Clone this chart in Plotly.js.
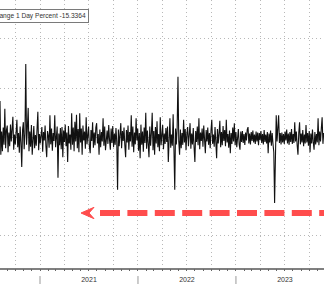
<!DOCTYPE html>
<html>
<head>
<meta charset="utf-8">
<script src="https://cdn.plot.ly/plotly-3.0.1.min.js"></script>
<style>html,body{margin:0;padding:0;background:#fff;}#chart{width:324px;height:284px;}</style>
</head>
<body>
<div id="chart"></div>
<script>
// ---- data ----
const SERIES_NAME = "Change 1 Day Percent";
const LAST_VALUE = -15.3364;
const START_DATE = "2020-08-05";
const STEP_DAYS = 3;
const values = [
  7.4, -3.5, 1.2, -2.8, 2.0, -1.5, 5.8, -2.2, 1.5, 2.4, -3.0, 1.0, -1.8, 2.6, -0.8, 1.9, 4.2, -2.5, 0.6, -1.4,
  1.8, 3.6, -2.0, 0.9, -3.1, 2.2, -1.0, -6.0, 1.5, 3.1, -2.4, 0.8, 14.9, -1.5, 2.0, 6.0, -2.8, 1.2, -1.9, 2.5,
  -3.5, 1.0, 2.3, -2.2, 0.5, -1.7, 1.9, 5.2, -2.6, 0.7, -1.2, 1.6, 2.1, -2.9, 1.1, -0.6, 2.4, -1.8, -4.0, 1.3,
  0.4, -2.1, 4.5, -1.4, 1.8, -2.7, 0.9, -0.7, 4.5, -2.0, 1.5, 2.2, -8.2, 0.8, -1.6, 1.9, -2.4, 2.1, -4.0, 1.4,
  -0.9, 2.6, -1.8, 1.0, -5.0, 2.3, -1.2, 0.6, -2.5, 4.9, -1.5, 2.0, -2.8, 3.2, -0.8, 4.6, -2.2, 1.7, -3.0, 4.9,
  -1.0, 1.8, -3.5, 2.4, -0.6, 1.2, -2.3, 4.1, -1.4, 0.8, 2.2, -1.9, -3.2, 1.5, -0.7, 3.1, -2.1, 1.0, -1.6, 2.0,
  2.9, -1.2, 0.7, -3.5, 1.6, -2.0, 1.1, -0.8, 3.9, -1.7, 2.2, -2.6, 0.9, 1.4, -1.3, 2.5, -0.5, -2.5, 1.8, -1.1,
  2.3, -2.0, 0.8, -1.5, 1.9, -0.9, -10.6, 1.6, -1.8, 0.6, 2.9, -2.2, 1.3, -0.7, 2.0, -1.6, -4.0, 1.5, -1.0, 2.4,
  -2.5, 1.1, -0.8, 4.5, -1.9, 2.2, -3.0, 1.0, -1.4, 3.9, -0.6, 1.8, -2.7, 0.9, -4.2, 2.6, -1.5, 1.2, -2.9, 2.0,
  -1.1, 5.0, -2.3, 1.4, -0.8, -4.0, 2.2, -1.7, 0.9, 5.0, -2.6, 1.3, -3.5, 2.1, -1.2, 3.3, -2.0, 0.7, -2.8, 4.1,
  -1.6, 1.2, 2.5, -2.4, 0.8, -1.3, 1.9, -0.9, 2.2, -5.0, 1.1, 3.9, -2.1, 0.6, -1.7, 4.7, -2.5, -10.6, 1.8, -1.4,
  2.0, 12.3, -0.8, -3.5, 1.6, -2.2, 0.9, -1.5, 3.6, -1.0, 1.7, -2.6, 0.7, 2.1, -1.8, 1.2, 2.9, -2.3, 0.8, -1.4,
  1.9, -2.0, -5.0, 1.3, -0.9, 2.2, -1.6, 3.9, -2.4, 1.0, -0.7, 1.8, -1.9, 2.4, -1.1, -3.2, 1.5, -0.8, 2.0, -1.5,
  0.9, -2.2, 1.4, 3.6, -1.3, 0.6, -1.9, 2.1, -0.9, -4.2, 1.7, -1.2, 0.8, 3.4, -2.0, 1.1, -1.6, 2.3, -0.7, 1.5,
  -1.8, 3.6, -1.0, 0.7, -2.1, 1.4, -3.2, 0.9, -1.3, 2.0, -0.8, 2.9, -1.6, 1.1, -2.0, 0.6, 1.7, -1.4, -2.5, 1.2,
  -0.9, 1.3, -1.1, 0.7, -1.5, 1.0, -0.6, 1.6, 2.1, -1.2, 0.8, -1.4, 1.1, -0.7, 1.4, -1.0, 0.6, -1.3, 1.2, -0.8,
  1.0, -1.6, 0.9, -0.5, 1.3, -1.1, 0.7, -1.4, 1.5, -0.9, 0.6, -1.2, 1.1, -3.2, 0.8, -1.0, 1.4, -1.7, 0.9, -1.3,
  -3.0, -13.3, 1.2, 4.5, -0.8, 1.5, 4.5, -1.1, 0.9, -1.4, 1.0, -1.0, 0.7, -1.3, 1.2, -0.6, 1.6, -1.2, 0.8, -1.5,
  1.1, -0.9, 1.7, -1.3, 0.7, -1.1, 3.1, -0.8, 1.2, -1.6, -3.5, 0.9, 3.1, -1.4, 0.8, -1.0, 1.5, -1.8, 0.6, -1.2,
  2.5, -1.0, 0.9, -1.7, 1.3, -3.0, 0.8, -1.2, 1.6, -0.9, -2.5, 1.1, -1.4, 0.7, -1.0, 3.9, -1.6, 1.2, -0.8, 1.8,
  4.1, -1.3, 0.9
];
const yearLabels = ["2021", "2022", "2023"];
const yearStarts = ["2021-01-01", "2022-01-01", "2023-01-01"];
const X_RANGE = ["2020-08-05", "2023-11-25"];
const Y_RANGE = [-26.5, 27.9];

// dates (one observation every STEP_DAYS days from START_DATE)
const t0 = Date.parse(START_DATE + "T00:00:00Z");
const dates = values.map((_, i) => new Date(t0 + i * STEP_DAYS * 86400000).toISOString().slice(0, 10));

const FONT = "Liberation Sans, Arial, sans-serif";
const GRID = "#b8b8b8";

const traces = [
  {
    x: dates, y: values, type: "scatter", mode: "lines",
    line: {color: "#111", width: 1.1},
    hoverinfo: "skip", showlegend: false
  },
  { x: [], y: [], xaxis: "x2", yaxis: "y", type: "scatter", mode: "lines", showlegend: false, hoverinfo: "skip" }
];

const shapes = yearStarts.map(d => ({
  type: "line", xref: "x", yref: "paper", x0: d, x1: d, y0: -0.03, y1: -0.062,
  line: {color: "#999", width: 1}
}));
// red dashed arrow at the last value level
shapes.push({
  type: "line", xref: "paper", yref: "y", x0: 100/324, x1: 1.05, y0: LAST_VALUE, y1: LAST_VALUE,
  line: {color: "#ff4d4d", width: 6, dash: "20px,7.4px"}
});
shapes.push({
  type: "path", xref: "paper", yref: "y",
  path: `M ${81/324} ${LAST_VALUE} L ${94/324} ${LAST_VALUE + 1.15} L ${89/324} ${LAST_VALUE} L ${94/324} ${LAST_VALUE - 1.15} Z`,
  fillcolor: "#ff4d4d", line: {color: "#ff4d4d", width: 1}
});

const layout = {
  width: 324, height: 284,
  margin: {l: 0, r: 0, t: 0, b: 16, pad: 0},
  paper_bgcolor: "#fff", plot_bgcolor: "#fff",
  showlegend: false,
  font: {family: FONT, size: 7, color: "#333"},
  xaxis: {
    type: "date", range: X_RANGE,
    dtick: "M12", tick0: "2021-01-01", ticklabelmode: "period",
    showticklabels: true, ticks: "", ticklabelstandoff: 4,
    tickfont: {family: FONT, size: 7, color: "#333"},
    showgrid: true, gridcolor: GRID, gridwidth: 1, griddash: "1px,3px",
    minor: {dtick: "M3", tick0: "2021-01-01", showgrid: true, gridcolor: GRID, gridwidth: 1, griddash: "1px,3px", ticks: ""},
    showline: true, linecolor: "#808080", linewidth: 1.5,
    zeroline: false, fixedrange: true
  },
  xaxis2: {
    type: "date", range: X_RANGE, overlaying: "x", anchor: "y", side: "bottom",
    dtick: "M1", tick0: "2021-01-01", ticks: "outside", ticklen: 2, tickcolor: "#666", tickwidth: 1,
    showticklabels: false, showgrid: false, showline: false, zeroline: false, fixedrange: true
  },
  yaxis: {
    range: Y_RANGE, dtick: 10, tick0: 0,
    showgrid: true, gridcolor: GRID, gridwidth: 1, griddash: "1px,3px",
    zeroline: false, showticklabels: false, ticks: "", showline: false, fixedrange: true
  },
  shapes: shapes,
  annotations: [{
    xref: "paper", yref: "paper", x: 89/324, y: (268 - 15.5) / 268,
    xanchor: "right", yanchor: "middle", showarrow: false,
    text: SERIES_NAME + " " + LAST_VALUE.toFixed(4),
    font: {family: FONT, size: 6.6, color: "#333"},
    bgcolor: "#fff", bordercolor: "#7a7a7a", borderwidth: 1, borderpad: 2
  }]
};

Plotly.newPlot("chart", traces, layout, {staticPlot: true, displayModeBar: false});
</script>
</body>
</html>
